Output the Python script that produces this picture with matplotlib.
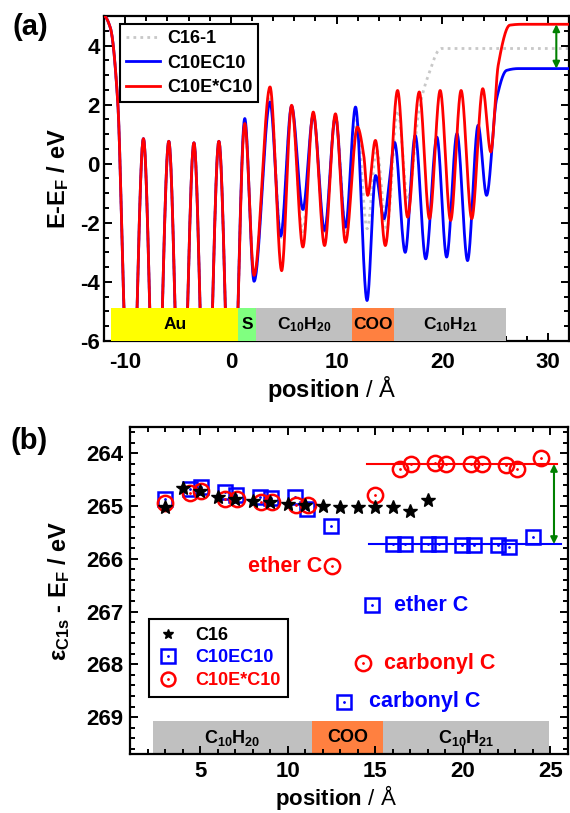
import numpy as np
import matplotlib
matplotlib.use("Agg")
import matplotlib.pyplot as plt
from matplotlib.legend_handler import HandlerTuple

plt.rcParams.update({
    "font.family": ["Liberation Sans", "DejaVu Sans"],
    "font.weight": "bold",
    "axes.unicode_minus": False,
    "mathtext.fontset": "custom",
    "mathtext.rm": "Liberation Sans",
    "mathtext.bf": "Liberation Sans:bold",
    "mathtext.it": "Liberation Sans:italic",
    "mathtext.default": "bf",
})

# ---------------- panel (a): plane-averaged potential, extrema of each curve ----------------
au_x = [-12.0, -11.4, -10.7, -10.1, -9.46, -8.27, -7.08, -5.87, -4.69, -3.49, -2.33, -1.13, 0.09]
au_y = [5.0, 4.6, 2.1, -5.0, -10.5, 0.85, -10.5, 0.76, -10.5, 0.71, -10.5, 0.76, -10.5]

c16_x = [1.32, 2.2, 3.71, 4.75, 5.75, 6.8, 7.8, 8.87, 9.9, 10.9, 11.9, 12.9, 13.8, 14.75,
         15.8, 16.75, 17.8, 18.6, 19.9, 32.0]
c16_y = [1.45, -3.9, 2.3, -2.5, 1.9, -2.3, 1.7, -2.4, 1.65, -2.3, 1.5, -2.2, 0.5, -2.2,
         1.8, -1.2, 1.8, 2.9, 3.9, 3.9]

ec_x = [1.32, 2.2, 3.71, 4.72, 5.75, 6.82, 7.8, 8.87, 9.9, 10.85, 11.8, 12.89, 13.7, 14.5,
        14.95, 15.5, 16.5, 17.45, 18.44, 19.5, 20.42, 21.4, 22.4, 23.4, 24.2, 25.15, 26.1,
        27.2, 32.0]
ec_y = [1.53, -3.98, 2.09, -2.45, 1.95, -1.55, 1.65, -2.26, 1.60, -2.15, 1.92, -4.63, -0.40,
        -1.86, -0.80, 0.72, -3.00, 0.96, -3.22, 0.90, -3.16, 1.02, -3.28, 1.30, -1.07, 2.20,
        3.16, 3.22, 3.22]

estar_x = [1.32, 2.2, 3.71, 4.81, 5.75, 6.82, 7.8, 8.87, 9.9, 10.85, 11.98, 12.58, 12.95,
           13.68, 14.62, 15.78, 16.73, 17.83, 18.8, 19.81, 20.8, 21.79, 22.8, 23.84, 24.6,
           25.3, 26.4, 27.5, 32.0]
estar_y = [1.36, -3.78, 2.60, -3.62, 1.98, -2.82, 1.75, -2.77, 1.69, -2.66, 1.24, 0.28, -1.07,
           0.79, -2.77, 2.48, -1.81, 2.43, -1.86, 2.48, -1.92, 2.48, -1.86, 2.54, 0.40,
           3.33, 4.69, 4.72, 4.72]

curve_labels = ["C16-1", "C10EC10", "C10E*C10"]

# layer bars (start, end, label, colour)
a_bar_edges = [-11.3, 0.69, 2.42, 11.48, 15.47, 26.0]
a_bar_names = ["Au", "S", r"C$_{10}$H$_{20}$", "COO", r"C$_{10}$H$_{21}$"]
a_bar_colors = ["#FFFF00", "#80FF80", "#C0C0C0", "#FF8040", "#C0C0C0"]

work_fn_shift = (4.72, 3.22)

# ---------------- panel (b): C1s binding energies ----------------
c16_pos = [3, 4, 5, 6, 7, 8, 9, 10, 11, 12, 13, 14, 15, 16, 17, 18]
c16_e = [265.01, 264.65, 264.72, 264.82, 264.87, 264.90, 264.92, 264.96, 264.98, 265.00,
         265.01, 265.01, 265.02, 265.02, 265.09, 264.88]

ec_pos = [2.98, 4.4, 5.04, 6.42, 7.04, 8.44, 9.06, 10.4, 11.13, 12.48, 13.19, 14.8, 16.02,
          16.68, 18.0, 18.65, 19.97, 20.64, 21.99, 22.65, 24.03]
ec_e = [264.87, 264.68, 264.64, 264.74, 264.78, 264.82, 264.84, 264.82, 265.05, 265.38,
        268.71, 266.88, 265.71, 265.71, 265.71, 265.71, 265.73, 265.73, 265.74, 265.78, 265.58]

estar_pos = [2.98, 4.43, 5.04, 6.45, 7.08, 8.49, 9.12, 10.5, 11.17, 12.54, 14.28, 14.98,
             16.42, 17.05, 18.4, 19.06, 20.44, 21.08, 22.46, 23.08, 24.44]
estar_e = [264.95, 264.76, 264.71, 264.86, 264.87, 264.93, 264.93, 264.98, 264.97, 266.14,
           267.98, 264.78, 264.30, 264.20, 264.18, 264.20, 264.20, 264.20, 264.22, 264.29,
           264.08]

level_ec = (14.67, 25.62, 265.72)
level_estar = (14.55, 25.4, 264.20)

b_bar_edges = [2.32, 11.4, 15.45, 24.9]
b_bar_names = [r"C$_{10}$H$_{20}$", "COO", r"C$_{10}$H$_{21}$"]
b_bar_colors = ["#C0C0C0", "#FF8040", "#C0C0C0"]


def pchip(xk, yk, n=40):
    """Monotone cubic Hermite curve through the given extrema."""
    xk = np.asarray(xk, float)
    yk = np.asarray(yk, float)
    h = np.diff(xk)
    d = np.diff(yk) / h
    m = np.zeros_like(xk)
    for k in range(1, len(xk) - 1):
        if d[k - 1] * d[k] > 0:
            w1 = 2 * h[k] + h[k - 1]
            w2 = h[k] + 2 * h[k - 1]
            m[k] = (w1 + w2) / (w1 / d[k - 1] + w2 / d[k])
    xs, ys = [], []
    for k in range(len(h)):
        t = np.linspace(0, 1, n, endpoint=False)
        h00 = 2 * t**3 - 3 * t**2 + 1
        h10 = t**3 - 2 * t**2 + t
        h01 = -2 * t**3 + 3 * t**2
        h11 = t**3 - t**2
        xs.append(xk[k] + t * h[k])
        ys.append(h00 * yk[k] + h10 * h[k] * m[k] + h01 * yk[k + 1] + h11 * h[k] * m[k + 1])
    xs.append([xk[-1]])
    ys.append([yk[-1]])
    return np.concatenate(xs), np.concatenate(ys)


fig = plt.figure(figsize=(5.7, 8.13), dpi=100)
ax1 = fig.add_axes([104 / 570, 1 - 341 / 813, 465 / 570, 325 / 813])
ax2 = fig.add_axes([130 / 570, 1 - 754 / 813, 438 / 570, 327 / 813])

for ax in (ax1, ax2):
    for s in ax.spines.values():
        s.set_linewidth(1.6)
    ax.tick_params(which="both", direction="in", top=True, right=True, width=1.4,
                   labelsize=16)
    ax.tick_params(which="major", length=6)
    ax.tick_params(which="minor", length=3.5)

# panel (a)
x, y = pchip(au_x + c16_x, au_y + c16_y)
ax1.plot(x, y, color="#C8C8C8", lw=2, ls=(0, (1, 1.5)), label=curve_labels[0], zorder=2)
x, y = pchip(au_x + ec_x, au_y + ec_y)
ax1.plot(x, y, color="#0000FF", lw=2, label=curve_labels[1], zorder=3)
x, y = pchip(au_x + estar_x, au_y + estar_y)
ax1.plot(x, y, color="#FF0000", lw=2, label=curve_labels[2], zorder=4)

for i, name in enumerate(a_bar_names):
    x0, x1 = a_bar_edges[i], a_bar_edges[i + 1]
    ax1.bar(x0, 1.1, width=x1 - x0, bottom=-6.0, align="edge", color=a_bar_colors[i],
            edgecolor="none", zorder=5)
    ax1.text((x0 + x1) / 2, -5.45, name, ha="center", va="center", fontsize=12.5,
             fontweight="bold", zorder=6)

ax1.annotate("", xy=(30.8, work_fn_shift[0]), xytext=(30.8, work_fn_shift[1]),
             arrowprops=dict(arrowstyle="<|-|>", color="#008000", lw=1.5,
                             mutation_scale=10, shrinkA=0, shrinkB=0), zorder=6)

ax1.set_xlim(-12, 32)
ax1.set_ylim(-6, 5)
ax1.set_xticks([-10, 0, 10, 20, 30])
ax1.set_xticks(np.arange(-12, 33, 2), minor=True)
ax1.set_yticks([-6, -4, -2, 0, 2, 4])
ax1.set_yticks(np.arange(-6, 5.01, 0.5), minor=True)
ax1.tick_params(axis="x", pad=8)
ax1.tick_params(axis="y", pad=3)
ax1.set_ylabel(r"E-E$_{F}$ / eV", fontsize=17, fontweight="bold")
ax1.yaxis.set_label_coords(-0.07, 0.5)
ax1.set_xlabel(r"$\mathbf{position}$ / Å", fontsize=17, fontweight="normal")
ax1.xaxis.set_label_coords(0.49, -0.1)
leg1 = ax1.legend(loc="upper left", bbox_to_anchor=(0.034, 0.975), borderaxespad=0,
                  fontsize=13, frameon=True, fancybox=False, edgecolor="black",
                  framealpha=1, labelspacing=0.4, handlelength=1.9, handletextpad=0.35,
                  borderpad=0.35)
leg1.get_frame().set_linewidth(1.5)
leg1.set_zorder(10)

# panel (b)
sq, = ax2.plot(ec_pos, ec_e, ls="none", marker="s", ms=10, mfc="none", mec="#0000FF",
               mew=1.8, zorder=3)
sqd, = ax2.plot(ec_pos, ec_e, ls="none", marker=".", ms=2, color="#0000FF", zorder=3)
ci, = ax2.plot(estar_pos, estar_e, ls="none", marker="o", ms=11, mfc="none",
               mec="#FF0000", mew=1.8, zorder=4)
cid, = ax2.plot(estar_pos, estar_e, ls="none", marker=".", ms=2, color="#FF0000", zorder=4)
st, = ax2.plot(c16_pos, c16_e, ls="none", marker="*", ms=10, color="black", zorder=5)

ax2.plot(level_ec[:2], [level_ec[2]] * 2, color="#0000FF", lw=1.5, zorder=2)
ax2.plot(level_estar[:2], [level_estar[2]] * 2, color="#FF0000", lw=1.5, zorder=2)
ax2.annotate("", xy=(25.2, level_estar[2]), xytext=(25.2, level_ec[2]),
             arrowprops=dict(arrowstyle="<|-|>", color="#008000", lw=1.5,
                             mutation_scale=10, shrinkA=0, shrinkB=0), zorder=6)

for i, name in enumerate(b_bar_names):
    x0, x1 = b_bar_edges[i], b_bar_edges[i + 1]
    ax2.bar(x0, 0.62, width=x1 - x0, bottom=269.08, align="edge", color=b_bar_colors[i],
            edgecolor="none", zorder=1)
    ax2.text((x0 + x1) / 2, 269.39, name, ha="center", va="center", fontsize=13,
             fontweight="bold", zorder=6)

ax2.text(11.95, 266.14, "ether C", color="#FF0000", fontsize=15.5, fontweight="bold",
         ha="right", va="center")
ax2.text(16.05, 266.88, "ether C", color="#0000FF", fontsize=15.5, fontweight="bold",
         ha="left", va="center")
ax2.text(15.5, 267.98, "carbonyl C", color="#FF0000", fontsize=15.5, fontweight="bold",
         ha="left", va="center")
ax2.text(14.64, 268.71, "carbonyl C", color="#0000FF", fontsize=15.5, fontweight="bold",
         ha="left", va="center")

ax2.set_xlim(1, 26)
ax2.set_ylim(269.7, 263.5)
ax2.set_xticks([5, 10, 15, 20, 25])
ax2.set_xticks(np.arange(1, 27, 1), minor=True)
ax2.set_yticks([264, 265, 266, 267, 268, 269])
ax2.set_yticks(np.arange(263.6, 269.7, 0.2), minor=True)
ax2.tick_params(axis="x", pad=5)
ax2.tick_params(axis="y", pad=5)
ax2.set_ylabel(r"ε$_{C1s}$ - E$_{F}$ / eV", fontsize=17, fontweight="bold")
ax2.yaxis.set_label_coords(-0.132, 0.5)
ax2.set_xlabel(r"$\mathbf{position}$ / Å", fontsize=16, fontweight="normal")
ax2.xaxis.set_label_coords(0.47, -0.09)

# legend markers are slightly smaller than the data markers
h_st, = ax2.plot([], [], ls="none", marker="*", ms=7, color="black")
h_sq, = ax2.plot([], [], ls="none", marker="s", ms=10, mfc="none", mec="#0000FF", mew=1.8)
h_sqd, = ax2.plot([], [], ls="none", marker=".", ms=2, color="#0000FF")
h_ci, = ax2.plot([], [], ls="none", marker="o", ms=10, mfc="none", mec="#FF0000", mew=1.8)
h_cid, = ax2.plot([], [], ls="none", marker=".", ms=2, color="#FF0000")
leg2 = ax2.legend([h_st, (h_sq, h_sqd), (h_ci, h_cid)], ["C16", "C10EC10", "C10E*C10"],
                  handler_map={tuple: HandlerTuple(ndivide=1)},
                  loc="upper left", bbox_to_anchor=(0.043, 0.413), borderaxespad=0,
                  fontsize=13, frameon=True, fancybox=False, edgecolor="black",
                  framealpha=1, labelspacing=0.3, handlelength=1.2, borderpad=0.45,
                  handletextpad=0.9)
leg2.get_frame().set_linewidth(1.5)
for txt, col in zip(leg2.get_texts(), ["black", "#0000FF", "#FF0000"]):
    txt.set_color(col)

fig.text(12 / 570, 1 - 13 / 813, "(a)", fontsize=21, fontweight="bold", va="top")
fig.text(10 / 570, 1 - 427 / 813, "(b)", fontsize=21, fontweight="bold", va="top")

fig.savefig("out.png", dpi=100)
